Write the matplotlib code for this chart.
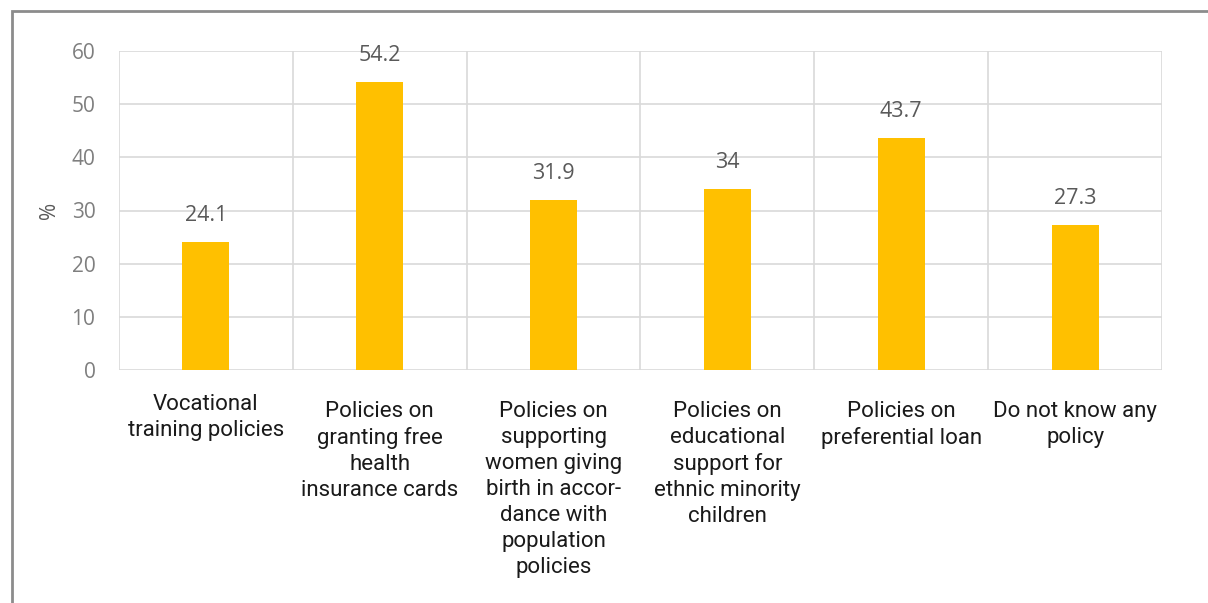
import matplotlib.pyplot as plt
from matplotlib.patches import Rectangle
import numpy as np

categories = [
    'Vocational\ntraining policies',
    'Policies on\ngranting free\nhealth\ninsurance cards',
    'Policies on\nsupporting\nwomen giving\nbirth in accor-\ndance with\npopulation\npolicies',
    'Policies on\neducational\nsupport for\nethnic minority\nchildren',
    'Policies on\npreferential loan',
    'Do not know any\npolicy',
]
values = [24.1, 54.2, 31.9, 34, 43.7, 27.3]
value_labels = ['24.1', '54.2', '31.9', '34', '43.7', '27.3']
yticks = [0, 10, 20, 30, 40, 50, 60]

W, H = 1208, 603
fig = plt.figure(figsize=(W / 100, H / 100), dpi=100)
ax = fig.add_axes([119 / W, 1 - 370 / H, (1162 - 119) / W, (370 - 51) / H])

grid_col = '#d9d9d9'
tick_col = '#7f7f7f'
num_col = '#595959'
x = np.arange(len(values))
ax.bar(x, values, width=0.27, color='#ffc000', zorder=3)

ax.set_xlim(-0.5, len(values) - 0.5)
ax.set_ylim(0, 60)
ax.set_yticks(yticks)
ax.set_yticklabels([str(t) for t in yticks], fontsize=15, color=tick_col,
                   family='Open Sans')
ax.tick_params(axis='y', length=0, pad=17)

# category separators and horizontal grid
for t in yticks:
    ax.axhline(t, color=grid_col, lw=1.2, zorder=1)
for b in np.arange(-0.5, len(values), 1.0):
    ax.axvline(b, color=grid_col, lw=1.2, zorder=1)
for s in ax.spines.values():
    s.set_visible(False)

ax.set_xticks(x)
ax.set_xticklabels(categories, fontsize=16, color='#1a1a1a',
                   family='Roboto', linespacing=1.32, va='top')
ax.tick_params(axis='x', length=0, pad=22)
# first label sits a little higher than the rest
ax.get_xticklabels()[0].set_y(0.02)

for xi, v, lab in zip(x, values, value_labels):
    ax.text(xi, v + 3.0, lab, ha='center', va='bottom', fontsize=15.5,
            color=num_col, family='Open Sans')

ax.set_ylabel('%', fontsize=15, color=num_col, family='Open Sans', labelpad=8)

# outer frame, open to the right and bottom
fig.add_artist(Rectangle((12 / W, -0.1), 1.2, 1 - 11 / H + 0.1,
                         transform=fig.transFigure, fill=False,
                         edgecolor='#8c8c8c', lw=2))

fig.savefig('out.png', dpi=100)
